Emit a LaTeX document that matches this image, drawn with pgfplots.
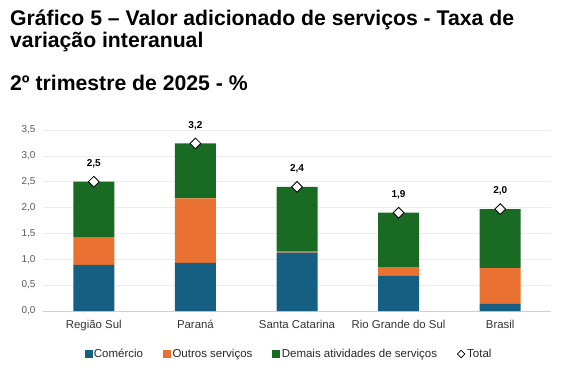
\documentclass[border=0pt]{standalone}
\usepackage{pgfplots}
\pgfplotsset{compat=1.18}
\usepackage{fontspec}
\setmainfont{Liberation Sans}
\definecolor{cBlue}{HTML}{156082}
\definecolor{cOrange}{HTML}{E97132}
\definecolor{cGreen}{HTML}{196B24}
\definecolor{cTick}{HTML}{595959}
\definecolor{cGrid}{HTML}{EDEDED}
\definecolor{cAxis}{HTML}{D0D0D0}
\begin{document}
\begin{tikzpicture}[x=1pt,y=1pt]
\path[use as bounding box] (0,0) rectangle (586,372);
\node[anchor=base west, font=\fontsize{21.2}{24}\selectfont\bfseries, inner sep=0] at (10,346) {Gráfico 5 – Valor adicionado de serviços - Taxa de};
\node[anchor=base west, font=\fontsize{21.2}{24}\selectfont\bfseries, inner sep=0] at (10,324) {variação interanual};
\node[anchor=base west, font=\fontsize{21.2}{24}\selectfont\bfseries, inner sep=0] at (10,281) {2º trimestre de 2025 - \%};
\begin{axis}[
  at={(43pt,61pt)}, anchor=south west, scale only axis,
  width=508pt, height=181pt,
  xmin=-0.5, xmax=4.5, ymin=0, ymax=3.5,
  ybar stacked, bar width=41pt,
  xtick={0,1,2,3,4},
  xticklabels={Região Sul, Paraná, Santa Catarina, Rio Grande do Sul, Brasil},
  ytick={0,0.5,1,1.5,2,2.5,3,3.5},
  axis lines*=left,
  axis line style={-},
  x axis line style={draw=cAxis, line width=0.8pt},
  y axis line style={draw=none},
  major tick length=0pt,
  ymajorgrids, grid style={draw=cGrid, line width=0.7pt},
  yticklabel style={font=\fontsize{10}{12}\selectfont, text=cTick, xshift=-4pt},
  xticklabel style={font=\fontsize{11.4}{13}\selectfont, text=black!80, yshift=-5.5pt},
  /pgf/number format/.cd, use comma, fixed, fixed zerofill, precision=1, assume math mode=true,
]
\addplot[fill=cBlue, draw=none] coordinates {(0,0.89)(1,0.93)(2,1.13)(3,0.68)(4,0.14)};
\addplot[fill=cOrange, draw=none] coordinates {(0,0.53)(1,1.25)(2,0.02)(3,0.17)(4,0.69)};
\addplot[fill=cGreen, draw=none] coordinates {(0,1.08)(1,1.06)(2,1.25)(3,1.05)(4,1.14)};
\end{axis}
\begin{axis}[
  at={(43pt,61pt)}, anchor=south west, scale only axis,
  width=508pt, height=181pt,
  xmin=-0.5, xmax=4.5, ymin=0, ymax=3.5,
  axis lines=none,
  clip=false,
  legend columns=-1,
  legend style={at={(0.5,0)}, anchor=center, yshift=-43pt, xshift=-8pt, draw=none, fill=none,
    font=\fontsize{11.5}{13}\selectfont, text=black!85,
    /tikz/every even column/.append style={column sep=18pt}},
  /pgf/number format/.cd, use comma, fixed, fixed zerofill, precision=1, assume math mode=true,
]
\addlegendimage{legend image code/.code={\fill[cBlue] (0pt,-3.5pt) rectangle (7pt,3.5pt);}}
\addlegendentry{Comércio}
\addlegendimage{legend image code/.code={\fill[cOrange] (0pt,-3.5pt) rectangle (7pt,3.5pt);}}
\addlegendentry{Outros serviços}
\addlegendimage{legend image code/.code={\fill[cGreen] (0pt,-3.5pt) rectangle (7pt,3.5pt);}}
\addlegendentry{Demais atividades de serviços}
\addplot[only marks, mark=square*, mark size=3.8pt,
  mark options={rotate=45, fill=white, draw=black, line width=0.8pt},
  nodes near coords,
  every node near coord/.append style={anchor=center, yshift=18pt, font=\fontsize{10}{12}\selectfont\bfseries, text=black},
  legend image code/.code={\draw[fill=white, line width=0.7pt, rotate=45] (-2.6pt,-2.6pt) rectangle (2.6pt,2.6pt);}
] coordinates {(0,2.50)(1,3.24)(2,2.40)(3,1.90)(4,1.97)};
\addlegendentry{Total}
\end{axis}
\end{tikzpicture}
\end{document}
